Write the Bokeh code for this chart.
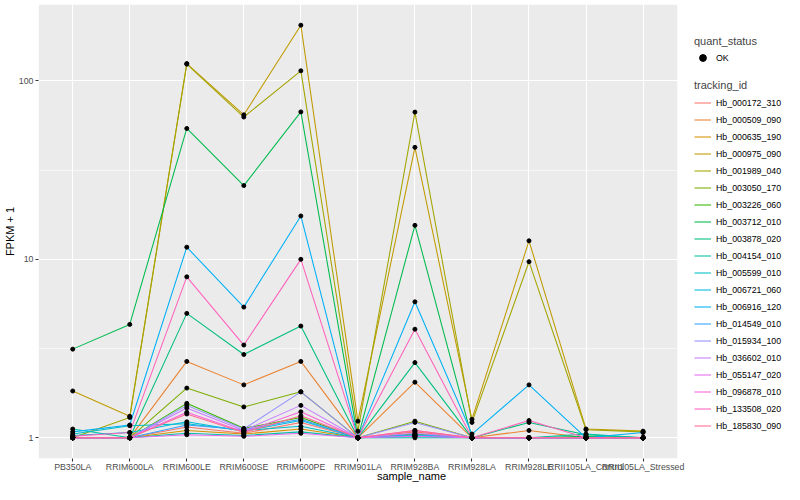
from bokeh.plotting import figure
from bokeh.models import (ColumnDataSource, Range1d, FixedTicker, BoxAnnotation,
                          Legend, LegendItem, PrintfTickFormatter)
from bokeh.embed import file_html
from bokeh.resources import INLINE

samples = ["PB350LA", "RRIM600LA", "RRIM600LE", "RRIM600SE", "RRIM600PE",
           "RRIM901LA", "RRIM928BA", "RRIM928LA", "RRIM928LE",
           "RRII105LA_Control", "RRII105LA_Stressed"]

tracking_ids = ["Hb_000172_310", "Hb_000509_090", "Hb_000635_190", "Hb_000975_090",
                "Hb_001989_040", "Hb_003050_170", "Hb_003226_060", "Hb_003712_010",
                "Hb_003878_020", "Hb_004154_010", "Hb_005599_010", "Hb_006721_060",
                "Hb_006916_120", "Hb_014549_010", "Hb_015934_100", "Hb_036602_010",
                "Hb_055147_020", "Hb_096878_010", "Hb_133508_020", "Hb_185830_090"]

colors = ["#F8766D", "#EA8331", "#D89000", "#C09B00", "#A3A500", "#7CAE00", "#39B600",
          "#00BB4E", "#00BF7D", "#00C1A3", "#00BFC4", "#00BAE0", "#00B0F6", "#35A2FF",
          "#9590FF", "#C77CFF", "#E76BF3", "#FA62DB", "#FF62BC", "#FF6C91"]

# FPKM + 1 per sample (same order as samples)
hb_000172_310 = [1.00, 1.00, 1.15, 1.06, 1.22, 1.00, 1.08, 1.00, 1.00, 1.00, 1.00]
hb_000509_090 = [1.00, 1.00, 2.68, 1.98, 2.68, 1.00, 2.05, 1.00, 1.10, 1.00, 1.00]
hb_000635_190 = [1.00, 1.00, 1.10, 1.05, 1.12, 1.00, 1.03, 1.00, 1.00, 1.00, 1.00]
hb_000975_090 = [1.83, 1.32, 125.0, 64.5, 205.0, 1.24, 42.4, 1.27, 12.7, 1.12, 1.09]
hb_001989_040 = [1.00, 1.30, 124.0, 62.7, 113.8, 1.09, 66.8, 1.22, 9.7, 1.11, 1.08]
hb_003050_170 = [1.00, 1.00, 1.90, 1.49, 1.81, 1.00, 1.24, 1.00, 1.00, 1.00, 1.00]
hb_003226_060 = [1.00, 1.00, 1.56, 1.13, 1.30, 1.00, 1.05, 1.00, 1.00, 1.00, 1.00]
hb_003712_010 = [3.14, 4.32, 54.1, 25.9, 67.0, 1.00, 15.5, 1.00, 1.00, 1.02, 1.00]
hb_003878_020 = [1.00, 1.00, 4.98, 2.93, 4.23, 1.00, 2.64, 1.00, 1.22, 1.04, 1.00]
hb_004154_010 = [1.12, 1.00, 1.06, 1.03, 1.08, 1.00, 1.00, 1.00, 1.00, 1.05, 1.00]
hb_005599_010 = [1.05, 1.17, 1.20, 1.10, 1.16, 1.00, 1.02, 1.00, 1.00, 1.00, 1.00]
hb_006721_060 = [1.03, 1.07, 1.23, 1.09, 1.25, 1.00, 1.04, 1.00, 1.00, 1.00, 1.00]
hb_006916_120 = [1.08, 1.18, 11.7, 5.4, 17.5, 1.00, 5.78, 1.05, 1.98, 1.00, 1.07]
hb_014549_010 = [1.00, 1.00, 1.18, 1.11, 1.27, 1.00, 1.03, 1.00, 1.00, 1.00, 1.00]
hb_015934_100 = [1.00, 1.00, 1.52, 1.12, 1.81, 1.00, 1.22, 1.00, 1.00, 1.00, 1.00]
hb_036602_010 = [1.00, 1.00, 1.47, 1.10, 1.52, 1.00, 1.06, 1.00, 1.00, 1.00, 1.00]
hb_055147_020 = [1.00, 1.00, 1.04, 1.02, 1.06, 1.00, 1.02, 1.00, 1.00, 1.00, 1.00]
hb_096878_010 = [1.00, 1.00, 1.39, 1.08, 1.40, 1.00, 1.10, 1.00, 1.00, 1.00, 1.00]
hb_133508_020 = [1.02, 1.07, 7.98, 3.31, 10.0, 1.00, 4.06, 1.00, 1.25, 1.00, 1.00]
hb_185830_090 = [1.00, 1.00, 1.36, 1.07, 1.33, 1.00, 1.10, 1.00, 1.00, 1.00, 1.00]

series = [hb_000172_310, hb_000509_090, hb_000635_190, hb_000975_090, hb_001989_040,
          hb_003050_170, hb_003226_060, hb_003712_010, hb_003878_020, hb_004154_010,
          hb_005599_010, hb_006721_060, hb_006916_120, hb_014549_010, hb_015934_100,
          hb_036602_010, hb_055147_020, hb_096878_010, hb_133508_020, hb_185830_090]

y_ticks = [1, 10, 100]
y_minor = [3.1623, 31.623]

FONT = "Liberation Sans"

# discrete positions of the samples on the x scale
x_pos = list(range(len(samples)))
n = len(samples)

p = figure(width=784, height=484,
           x_range=Range1d(-0.6, n - 1 + 2.48),
           y_range=Range1d(0.766, 267.7), y_axis_type="log",
           output_backend="svg", toolbar_location=None,
           min_border_left=32, min_border_right=0, min_border_top=4,
           min_border_bottom=0)

p.background_fill_color = "white"
p.border_fill_color = "white"
p.outline_line_color = None

# grey plotting panel (ggplot style), only over the data region
p.add_layout(BoxAnnotation(left=-0.6, right=n - 1 + 0.6, fill_color="#EBEBEB",
                           fill_alpha=1, line_color=None, level="image"))

p.xaxis.ticker = FixedTicker(ticks=x_pos)
p.xaxis.major_label_overrides = {i: s for i, s in zip(x_pos, samples)}
p.yaxis.ticker = FixedTicker(ticks=y_ticks, minor_ticks=y_minor)
p.yaxis.formatter = PrintfTickFormatter(format="%d")

p.xgrid.grid_line_color = "white"
p.xgrid.grid_line_width = 1.07
p.ygrid.grid_line_color = "white"
p.ygrid.grid_line_width = 1.07
p.ygrid.minor_grid_line_color = "white"
p.ygrid.minor_grid_line_width = 0.55

for ax in (p.xaxis[0], p.yaxis[0]):
    ax.axis_line_color = None
    ax.major_tick_line_color = "#333333"
    ax.major_tick_line_width = 1.07
    ax.major_tick_out = 3
    ax.major_tick_in = 0
    ax.minor_tick_line_color = None
    ax.major_label_text_font = FONT
    ax.major_label_text_font_size = "8.8px"
    ax.major_label_text_color = "#4D4D4D"
    ax.major_label_standoff = 1
    ax.axis_label_text_font = FONT
    ax.axis_label_text_font_size = "11px"
    ax.axis_label_text_font_style = "normal"
    ax.axis_label_text_color = "black"
    ax.axis_label_standoff = 0

p.xaxis.major_label_standoff = 0
p.xaxis.axis_label_standoff = -5

p.xaxis.axis_label = "sample_name"
p.yaxis.axis_label = "FPKM + 1"

# dummy renderer providing the grey legend-key background
key_bg = p.quad(left=[], right=[], top=[], bottom=[], fill_color="#F2F2F2",
                line_color=None)

line_items = []
for tid, col, vals in zip(tracking_ids, colors, series):
    src = ColumnDataSource(dict(x=x_pos, y=vals))
    r = p.line("x", "y", source=src, line_color=col, line_width=1.07)
    line_items.append(LegendItem(label=tid, renderers=[key_bg, r]))

pt_x, pt_y = [], []
for vals in series:
    pt_x.extend(x_pos)
    pt_y.extend(vals)
pts = p.scatter(x=pt_x, y=pt_y, size=4, marker="circle", fill_color="black",
                line_color="black")

common = dict(border_line_color=None, background_fill_alpha=0, padding=0, margin=0,
              spacing=0, glyph_width=17, glyph_height=17, label_height=17,
              label_standoff=5, label_text_font=FONT, label_text_font_size="8.8px",
              label_text_color="black", title_text_font=FONT,
              title_text_font_size="11px", title_text_font_style="normal")

leg1 = Legend(items=[LegendItem(label="OK", renderers=[key_bg, pts])],
              title="quant_status", title_standoff=2, location=(656, 392), **common)
leg2 = Legend(items=line_items, title="tracking_id", title_standoff=3,
              location=(656, 24), **common)
p.add_layout(leg1)
p.add_layout(leg2)

open("out.html", "w").write(file_html(p, INLINE))
